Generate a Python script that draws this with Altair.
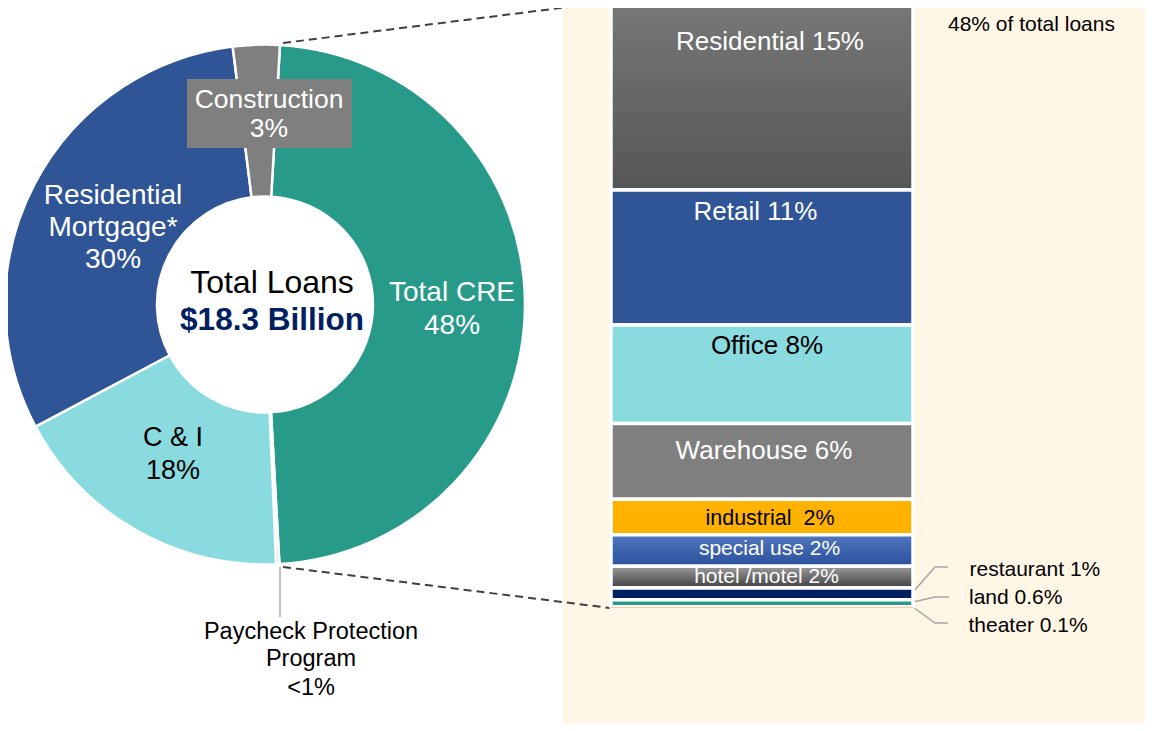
import math
import altair as alt
import pandas as pd

# ---------------- data ----------------
loan_types = ["Total CRE", "Paycheck Protection Program", "C & I",
              "Residential Mortgage*", "Construction"]
loan_shares = [48.2, 0.2, 17.9, 30.8, 2.9]

cre_types = ["Residential", "Retail", "Office", "Warehouse", "industrial",
             "special use", "hotel /motel", "restaurant", "land", "theater"]
cre_shares = [14.9, 10.7, 7.8, 6.0, 2.8, 2.5, 1.7, 0.95, 0.55, 0.1]
cre_labels = ["Residential 15%", "Retail 11%", "Office 8%", "Warehouse 6%",
              "industrial\u00a0 2%", "special use 2%", "hotel /motel 2%",
              "restaurant 1%", "land 0.6%", "theater 0.1%"]

center_title = "Total Loans"
center_total = "$18.3 Billion"
cre_note = "48% of total loans"

# ---------------- styles / layout ----------------
loan_colors = ["#279A89", "#D9D9D9", "#89DBDF", "#2F5597", "#7F7F7F"]
cre_colors = ["#676767", "#2F5597", "#89DBDF", "#7F7F7F", "#FFB300",
              "#3D62AE", "#6A6A6A", "#002060", "#279A89", "#F4CCA8"]

OFF = 8          # page margin
W, H = 1137, 715
XS = alt.Scale(domain=[OFF, OFF + W], range=[0, W])
YS = alt.Scale(domain=[OFF, OFF + H], range=[0, H])


def px(v):
    return v - OFF


FONT = "Liberation Sans"

# background panel
bg_df = pd.DataFrame({"x": [563], "x2": [1160], "y": [-10], "y2": [740]})
bg = alt.Chart(bg_df).mark_rect(color="#FFF6E5").encode(
    x=alt.X("x:Q", scale=XS, axis=None), x2="x2:Q",
    y=alt.Y("y:Q", scale=YS, axis=None), y2="y2:Q")

# donut
donut_df = pd.DataFrame({"type": loan_types, "share": loan_shares,
                         "idx": list(range(len(loan_types))),
                         "color": loan_colors})
start = math.radians(3.3)
donut = alt.Chart(donut_df).mark_arc(
    innerRadius=108, outerRadius=260, stroke="white", strokeWidth=2.5
).encode(
    theta=alt.Theta("share:Q", stack=True,
                    scale=alt.Scale(range=[start, start + 2 * math.pi])),
    order=alt.Order("idx:Q"),
    fill=alt.Fill("color:N", scale=None),
    x=alt.value(px(265)), y=alt.value(px(304.5)),
)

# construction label box
box_df = pd.DataFrame({"x": [187], "x2": [352], "y": [79], "y2": [148]})
box = alt.Chart(box_df).mark_rect(color="#7F7F7F").encode(
    x=alt.X("x:Q", scale=XS, axis=None), x2="x2:Q",
    y=alt.Y("y:Q", scale=YS, axis=None), y2="y2:Q")

# dashed connectors
dash_df = pd.DataFrame({"x": [283, 283], "y": [43, 567],
                        "x2": [608, 610], "y2": [2, 608]})
dashes = alt.Chart(dash_df).mark_rule(
    color="#404040", strokeWidth=2, strokeDash=[8, 5]).encode(
    x=alt.X("x:Q", scale=XS, axis=None), x2="x2:Q",
    y=alt.Y("y:Q", scale=YS, axis=None), y2="y2:Q")

# PPP leader
ppp_df = pd.DataFrame({"x": [280], "y": [567], "y2": [617]})
ppp_line = alt.Chart(ppp_df).mark_rule(color="#BFBFBF", strokeWidth=2).encode(
    x=alt.X("x:Q", scale=XS, axis=None),
    y=alt.Y("y:Q", scale=YS, axis=None), y2="y2:Q")

# leader lines for small CRE segments
lead_df = pd.DataFrame({
    "id": [0, 0, 0, 1, 1, 1, 2, 2, 2],
    "seq": [0, 1, 2] * 3,
    "x": [913, 935, 948, 913, 935, 949, 913, 935, 948],
    "y": [592, 567, 567, 602, 597, 597, 607, 623, 623],
})
leaders = alt.Chart(lead_df).mark_line(color="#A6A6A6", strokeWidth=1.5).encode(
    x=alt.X("x:Q", scale=XS, axis=None),
    y=alt.Y("y:Q", scale=YS, axis=None),
    detail="id:N", order="seq:Q")

# stacked CRE bar
cre_df = pd.DataFrame({"type": cre_types, "share": cre_shares,
                       "color": cre_colors})
cre_df["top"] = cre_df["share"].cumsum() - cre_df["share"]
cre_df["bottom"] = cre_df["share"].cumsum()
BS = alt.Scale(domain=[0, float(sum(cre_shares))],
               range=[px(1.5), px(608)])


def bar_enc(ch):
    return ch.encode(
        x=alt.value(px(611)), x2=alt.value(px(913)),
        y=alt.Y("top:Q", scale=BS, axis=None), y2="bottom:Q")


bars = bar_enc(alt.Chart(cre_df).transform_filter(
    alt.datum.type != "theater").mark_rect(
    stroke="white", strokeWidth=3.5)).encode(
    fill=alt.Fill("color:N", scale=None))


def grad(c1, c2, vertical=True):
    return alt.LinearGradient(
        gradient="linear",
        stops=[alt.GradientStop(color=c1, offset=0),
               alt.GradientStop(color=c2, offset=1)],
        x1=0, x2=0 if vertical else 1, y1=0, y2=1 if vertical else 0)


res_grad = bar_enc(alt.Chart(cre_df).transform_filter(
    alt.datum.type == "Residential").mark_rect(
    fill=grad("#777777", "#565656"), stroke="white", strokeWidth=3.5))
sp_grad = bar_enc(alt.Chart(cre_df).transform_filter(
    alt.datum.type == "special use").mark_rect(
    fill=grad("#5277C0", "#2B509C"), stroke="white", strokeWidth=3.5))
ho_grad = bar_enc(alt.Chart(cre_df).transform_filter(
    alt.datum.type == "hotel /motel").mark_rect(
    fill=grad("#9C9C9C", "#404040"), stroke="white", strokeWidth=3.5))
theater = bar_enc(alt.Chart(cre_df).transform_filter(
    alt.datum.type == "theater").mark_rect(color="#F4CCA8"))

# ---------------- text ----------------
lbl_df = pd.DataFrame({
    "text": ["Residential", "Mortgage*", "30%", "Total CRE", "48%",
             "C & I", "18%", "Construction", "3%", center_title,
             "Paycheck Protection", "Program", "<1%",
             cre_labels[0], cre_labels[1], cre_labels[2], cre_labels[3],
             cre_labels[4], cre_labels[5], cre_labels[6]],
    "x": [113, 113, 113, 452, 452, 173, 173, 269, 269, 272,
          311, 311, 311,
          770, 755.5, 767, 764, 770, 769.5, 766.5],
    "y": [196, 228, 260, 293, 326, 438, 471, 100, 129, 283,
          632, 659, 688,
          41.5, 212, 345.5, 450.5, 518.5, 549, 577],
    "color": ["white"] * 5 + ["black"] * 2 + ["white"] * 2 + ["black"] * 4
             + ["white", "white", "black", "white", "black", "white", "white"],
    "size": [28, 28, 28, 28, 28, 27, 27, 26.5, 26.5, 32, 23.5, 23.5, 23.5,
             26, 26, 26, 26, 21.5, 21, 21],
})
labels = alt.Chart(lbl_df).mark_text(font=FONT, align="center",
                                     baseline="middle").encode(
    x=alt.X("x:Q", scale=XS, axis=None),
    y=alt.Y("y:Q", scale=YS, axis=None),
    text="text:N",
    fill=alt.Fill("color:N", scale=None),
    size=alt.Size("size:Q", scale=None, legend=None))

bold_df = pd.DataFrame({"text": [center_total], "x": [272], "y": [321]})
bold = alt.Chart(bold_df).mark_text(font=FONT, fontWeight="bold",
                                    fontSize=31.5, color="#002060",
                                    align="center", baseline="middle").encode(
    x=alt.X("x:Q", scale=XS, axis=None),
    y=alt.Y("y:Q", scale=YS, axis=None), text="text:N")

side_df = pd.DataFrame({
    "text": [cre_labels[7], cre_labels[8], cre_labels[9], cre_note],
    "x": [969.5, 969, 968.5, 948],
    "y": [570, 598, 626, 25],
})
side = alt.Chart(side_df).mark_text(font=FONT, fontSize=21, color="black",
                                    align="left", baseline="middle").encode(
    x=alt.X("x:Q", scale=XS, axis=None),
    y=alt.Y("y:Q", scale=YS, axis=None), text="text:N")

chart = alt.layer(
    bg, donut, box, dashes, ppp_line, leaders,
    bars, res_grad, sp_grad, ho_grad, theater,
    labels, bold, side
).resolve_scale(y="independent").properties(
    width=W, height=H, padding=0,
    autosize=alt.AutoSizeParams(type="none"),
    background="white",
).configure_view(stroke=None)

chart.save("out.html", embed_options={"renderer": "svg", "actions": False})
